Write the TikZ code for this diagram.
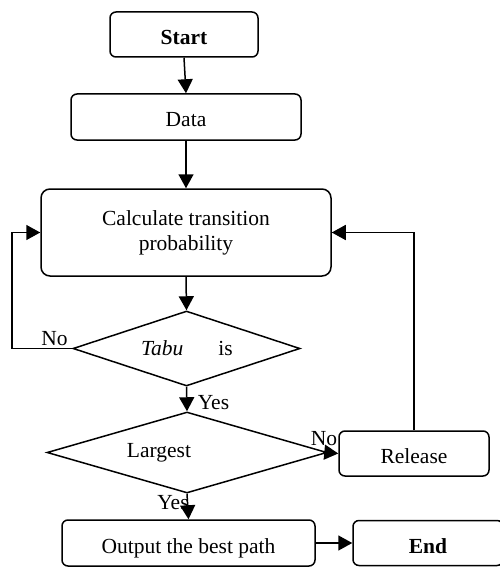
\documentclass[tikz,border=0pt]{standalone}
\usepackage{fontspec}
\setmainfont{Liberation Serif}
\usetikzlibrary{shapes.geometric,arrows.meta}
\begin{document}
\begin{tikzpicture}[x=1pt,y=-1pt,
  font=\fontsize{21.5}{25}\selectfont,
  box/.style={draw,line width=1.5pt,rounded corners=6pt,inner sep=0pt,align=center},
  onel/.style={text height=21pt,text depth=1pt},
  dia/.style={draw,line width=1.5pt,diamond,inner sep=0pt},
  arr/.style={line width=1.5pt,-{Triangle[length=14pt,width=15pt]}},
  lbl/.style={inner sep=0pt}]
\useasboundingbox (0,0) rectangle (499,567);
\node[box,onel,minimum width=148pt,minimum height=45pt] (start) at (184,34.5) {\textbf{Start}};
\node[box,onel,minimum width=230pt,minimum height=46pt] (data) at (186,117) {Data};
\node[box,rounded corners=9pt,minimum width=290pt,minimum height=87pt] (calc) at (186,232.5) {Calculate transition\\probability};
\node[dia,minimum width=227pt,minimum height=75pt] (tabu) at (186.5,348.5) {};
\node[lbl] (tabut) at (187,348) {\textit{Tabu}\hspace{35pt}is};
\node[dia,minimum width=280pt,minimum height=81pt] (largest) at (187,452.5) {};
\node[lbl] (largt) at (159,453) {Largest};
\node[box,onel,minimum width=150pt,minimum height=45pt] (release) at (414,453.5) {Release};
\node[box,onel,minimum width=253pt,minimum height=46pt] (output) at (188.5,543) {Output the best path};
\node[box,onel,minimum width=150pt,minimum height=45pt] (end) at (428,543) {\textbf{End}};
\coordinate (lp) at (12,348.5);
\node[lbl] (no1) at (54.5,339) {No};
\node[lbl] (yes1) at (213.5,403) {Yes};
\node[lbl] (no2) at (324,439) {No};
\node[lbl] (yes2) at (173,503) {Yes};
\draw[arr] (start.south) -- (data.north);
\draw[arr] (data.south) -- (calc.north);
\draw[arr] (calc.south) -- (tabu.north);
\draw[arr] (tabu.west) -- (lp) |- (calc.west);
\draw[arr] (tabu.south) -- (largest.north);
\draw[arr] (largest.east) -- (release.west);
\draw[arr] (release.north) |- (calc.east);
\draw[arr] (largest.south) -- (output.north);
\draw[arr] (output.east) -- (end.west);
\end{tikzpicture}
\end{document}
